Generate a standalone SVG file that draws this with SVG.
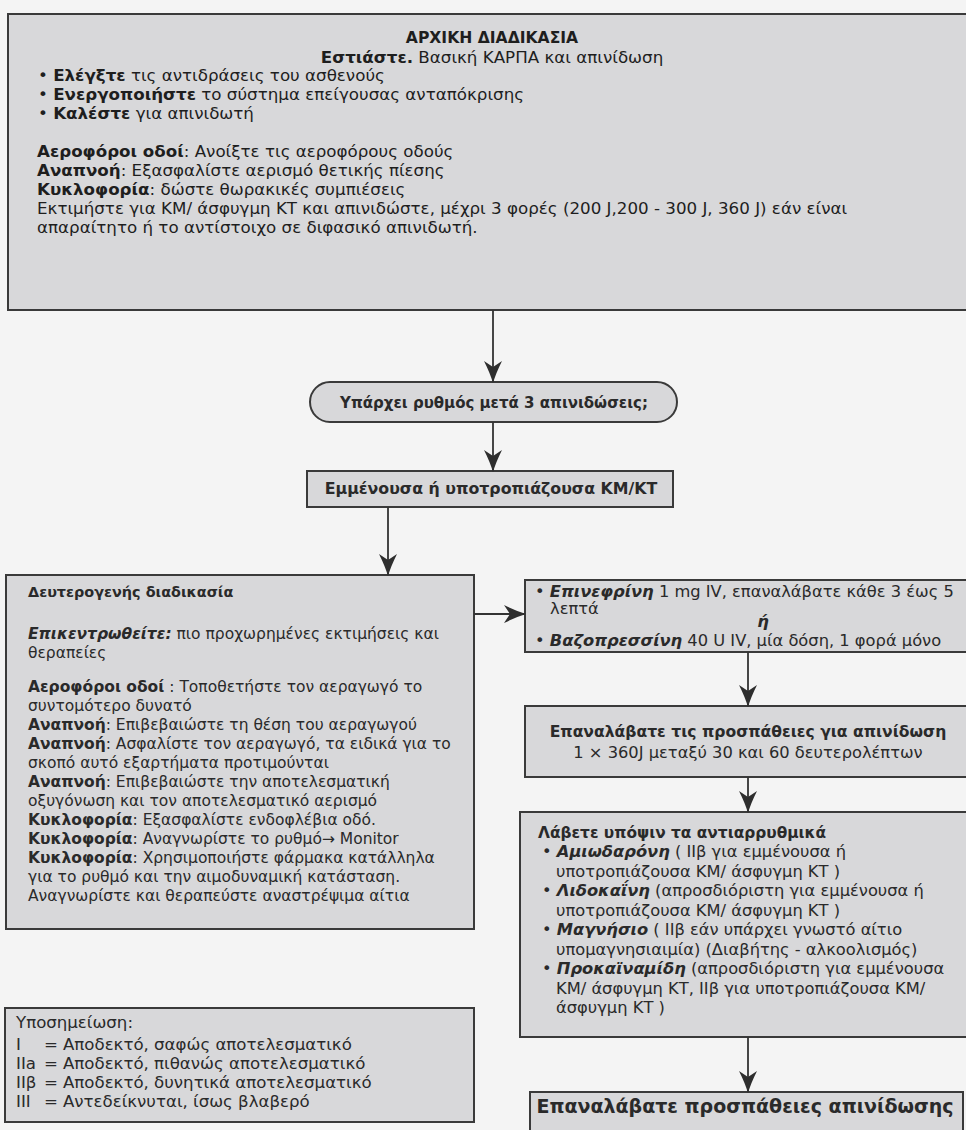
<svg xmlns="http://www.w3.org/2000/svg" width="966" height="1130" viewBox="0 0 966 1130">
<style>
.bg{fill:#f4f4f4}
.box{fill:#d8d8da;stroke:#3a3a3a;stroke-width:2}
.top{font-family:"DejaVu Sans","Liberation Sans",sans-serif;font-size:16.7px;fill:#1e1e1e}
.t{font-family:"DejaVu Sans","Liberation Sans",sans-serif;font-size:15.5px;fill:#2a2a2a}
.r{font-size:16.3px}
.fn{font-size:16.6px}
.b{font-weight:bold}
.bi{font-weight:bold;font-style:italic}
.c{text-anchor:middle}
.conn{stroke:#333;stroke-width:1.8;fill:none;marker-end:url(#ah)}
</style>
<defs>
<marker id="ah" viewBox="0 0 22 18" refX="21" refY="9" markerWidth="22" markerHeight="18" markerUnits="userSpaceOnUse" orient="auto">
<path d="M0,0 Q12,6 22,9 Q12,12 0,18 L6,9 z" fill="#2e2e2e"/>
</marker>
</defs>
<rect class="bg" x="0" y="0" width="966" height="1130"/>

<g id="n-initial">
<rect class="box" x="8" y="14" width="970" height="296"/>
<text class="top b c" x="492" y="43" style="font-size:15.6px">ΑΡΧΙΚΗ ΔΙΑΔΙΚΑΣΙΑ</text>
<text class="top c" x="492" y="63"><tspan class="b">Εστιάστε.</tspan> Βασική ΚΑΡΠΑ και απινίδωση</text>
<text class="top" x="38" y="81">• <tspan class="b">Ελέγξτε</tspan> τις αντιδράσεις του ασθενούς</text>
<text class="top" x="38" y="100">• <tspan class="b">Ενεργοποιήστε</tspan> το σύστημα επείγουσας ανταπόκρισης</text>
<text class="top" x="38" y="119">• <tspan class="b">Καλέστε</tspan> για απινιδωτή</text>
<text class="top" x="37" y="157"><tspan class="b">Αεροφόροι οδοί</tspan>: Ανοίξτε τις αεροφόρους οδούς</text>
<text class="top" x="37" y="176"><tspan class="b">Αναπνοή</tspan>: Εξασφαλίστε αερισμό θετικής πίεσης</text>
<text class="top" x="37" y="195"><tspan class="b">Κυκλοφορία</tspan>: δώστε θωρακικές  συμπιέσεις</text>
<text class="top" x="37" y="214">Εκτιμήστε για ΚΜ/ άσφυγμη ΚΤ και απινιδώστε, μέχρι 3 φορές (200 J,200 - 300 J, 360 J) εάν είναι</text>
<text class="top" x="37" y="233">απαραίτητο ή το αντίστοιχο σε διφασικό απινιδωτή.</text>
</g>

<g id="n-rhythm">
<rect class="box" x="310" y="382" width="367" height="40" rx="20" ry="20"/>
<text class="t b c" x="494" y="408" style="font-size:15px">Υπάρχει ρυθμός μετά 3 απινιδώσεις;</text>
</g>

<g id="n-persistent">
<rect class="box" x="307" y="471" width="366" height="36"/>
<text class="t b c" x="491" y="494" style="font-size:15.8px">Εμμένουσα ή υποτροπιάζουσα ΚΜ/ΚΤ</text>
</g>

<g id="n-secondary">
<rect class="box" x="6" y="575" width="468" height="354"/>
<text class="t b" x="28" y="597" style="font-size:14.4px">Δευτερογενής διαδικασία</text>
<text class="t" x="28" y="639"><tspan class="bi">Επικεντρωθείτε:</tspan> πιο προχωρημένες εκτιμήσεις και</text>
<text class="t" x="28" y="658">θεραπείες</text>
<text class="t" x="28" y="692"><tspan class="b">Αεροφόροι οδοί</tspan> : Τοποθετήστε τον αεραγωγό το</text>
<text class="t" x="28" y="711">συντομότερο δυνατό</text>
<text class="t" x="28" y="730"><tspan class="b">Αναπνοή</tspan>: Επιβεβαιώστε τη θέση του αεραγωγού</text>
<text class="t" x="28" y="749"><tspan class="b">Αναπνοή</tspan>: Ασφαλίστε τον αεραγωγό, τα ειδικά για το</text>
<text class="t" x="28" y="768">σκοπό αυτό εξαρτήματα προτιμούνται</text>
<text class="t" x="28" y="787"><tspan class="b">Αναπνοή</tspan>: Επιβεβαιώστε την αποτελεσματική</text>
<text class="t" x="28" y="806">οξυγόνωση και τον αποτελεσματικό αερισμό</text>
<text class="t" x="28" y="825"><tspan class="b">Κυκλοφορία</tspan>: Εξασφαλίστε ενδοφλέβια οδό.</text>
<text class="t" x="28" y="844"><tspan class="b">Κυκλοφορία</tspan>: Αναγνωρίστε το ρυθμό→ Monitor</text>
<text class="t" x="28" y="863"><tspan class="b">Κυκλοφορία</tspan>: Χρησιμοποιήστε φάρμακα κατάλληλα</text>
<text class="t" x="28" y="882">για το ρυθμό και την αιμοδυναμική κατάσταση.</text>
<text class="t" x="28" y="901">Αναγνωρίστε και θεραπεύστε αναστρέψιμα αίτια</text>
</g>

<g id="n-vaso">
<rect class="box" x="525" y="580" width="460" height="72"/>
<text class="t r" x="535" y="597">• <tspan class="bi">Επινεφρίνη</tspan> 1 mg IV, επαναλάβατε κάθε 3 έως 5</text>
<text class="t r" x="550" y="614">λεπτά</text>
<text class="t r bi c" x="763" y="627">ή</text>
<text class="t r" x="535" y="646">• <tspan class="bi">Βαζοπρεσσίνη</tspan>  40 U IV, μία δόση, 1 φορά μόνο</text>
</g>

<g id="n-shock1">
<rect class="box" x="525" y="706" width="460" height="71"/>
<text class="t b c" x="748" y="737" style="font-size:15.6px">Επαναλάβατε τις προσπάθειες για απινίδωση</text>
<text class="t r c" x="748" y="758">1 × 360J μεταξύ 30 και 60 δευτερολέπτων</text>
</g>

<g id="n-antiarrhythmics">
<rect class="box" x="520" y="812" width="465" height="225"/>
<text class="t b" x="538" y="838" style="font-size:15.4px">Λάβετε υπόψιν τα αντιαρρυθμικά</text>
<text class="t r" x="542" y="857">• <tspan class="bi">Αμιωδαρόνη</tspan> ( IIβ για εμμένουσα ή</text>
<text class="t r" x="556" y="877">υποτροπιάζουσα ΚΜ/ άσφυγμη ΚΤ )</text>
<text class="t r" x="542" y="896">• <tspan class="bi">Λιδοκαΐνη</tspan> (απροσδιόριστη για εμμένουσα ή</text>
<text class="t r" x="556" y="916">υποτροπιάζουσα ΚΜ/ άσφυγμη ΚΤ )</text>
<text class="t r" x="542" y="935">• <tspan class="bi">Μαγνήσιο</tspan> ( IIβ εάν υπάρχει γνωστό αίτιο</text>
<text class="t r" x="556" y="955">υπομαγνησιαιμία) (Διαβήτης - αλκοολισμός)</text>
<text class="t r" x="542" y="974">• <tspan class="bi">Προκαϊναμίδη</tspan> (απροσδιόριστη για εμμένουσα</text>
<text class="t r" x="556" y="994">ΚΜ/ άσφυγμη ΚΤ, IIβ για υποτροπιάζουσα ΚΜ/</text>
<text class="t r" x="556" y="1013">άσφυγμη ΚΤ )</text>
</g>

<g id="n-shock2">
<rect class="box" x="530" y="1092" width="433" height="60"/>
<text class="t b c" x="745" y="1113" style="font-size:19px">Επαναλάβατε προσπάθειες απινίδωσης</text>
</g>

<g id="n-footnote">
<rect class="box" x="5" y="1008" width="469" height="114"/>
<text class="t fn" x="16" y="1028">Υποσημείωση:</text>
<g class="t fn">
<text x="16" y="1050">I</text><text x="44" y="1050">=</text><text x="63" y="1050">Αποδεκτό, σαφώς αποτελεσματικό</text>
<text x="16" y="1069">IIa</text><text x="44" y="1069">=</text><text x="63" y="1069">Αποδεκτό, πιθανώς αποτελεσματικό</text>
<text x="16" y="1088">IIβ</text><text x="44" y="1088">=</text><text x="63" y="1088">Αποδεκτό, δυνητικά αποτελεσματικό</text>
<text x="16" y="1107">III</text><text x="44" y="1107">=</text><text x="63" y="1107">Αντεδείκνυται, ίσως βλαβερό</text>
</g>
</g>

<g id="connectors">
<line class="conn" x1="493" y1="310" x2="493" y2="382"/>
<line class="conn" x1="493" y1="422" x2="493" y2="471"/>
<line class="conn" x1="388" y1="507" x2="388" y2="575"/>
<line class="conn" x1="474" y1="614" x2="525" y2="614"/>
<line class="conn" x1="748" y1="652" x2="748" y2="706"/>
<line class="conn" x1="748" y1="777" x2="748" y2="812"/>
<line class="conn" x1="748" y1="1037" x2="748" y2="1092"/>
</g>
</svg>
